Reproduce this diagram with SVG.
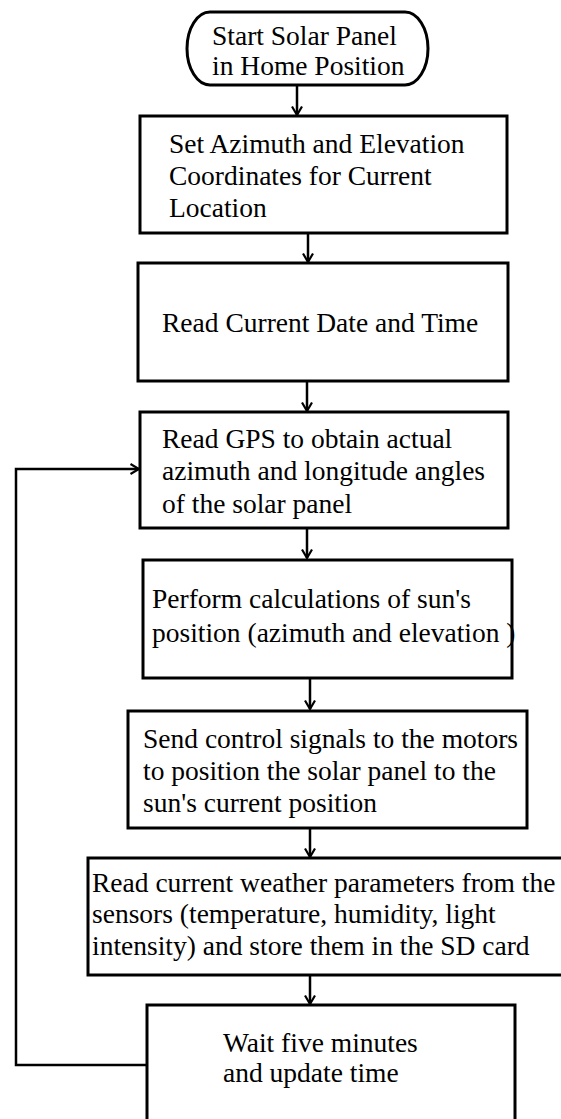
<svg xmlns="http://www.w3.org/2000/svg" width="561" height="1119" viewBox="0 0 561 1119">
<style>
.box{fill:#fff;stroke:#000;stroke-width:3}
.c{fill:none;stroke:#000;stroke-width:2.5}
</style>
<defs>
<marker id="ah" markerUnits="userSpaceOnUse" viewBox="0 0 12 12" refX="10.5" refY="6" markerWidth="12" markerHeight="12" orient="auto">
<path d="M2,1 L10.5,6 L2,11" fill="none" stroke="#000" stroke-width="2.2"/>
</marker>
</defs>
<rect width="561" height="1119" fill="#fff"/>
<g id="connectors">
<line class="c" x1="297" y1="85" x2="297" y2="115" marker-end="url(#ah)"/>
<line class="c" x1="308" y1="233" x2="308" y2="262" marker-end="url(#ah)"/>
<line class="c" x1="307" y1="381" x2="307" y2="411" marker-end="url(#ah)"/>
<line class="c" x1="307" y1="528" x2="307" y2="558" marker-end="url(#ah)"/>
<line class="c" x1="310" y1="678" x2="310" y2="709" marker-end="url(#ah)"/>
<line class="c" x1="310" y1="828" x2="310" y2="857" marker-end="url(#ah)"/>
<line class="c" x1="310" y1="975" x2="310" y2="1004" marker-end="url(#ah)"/>
<path class="c" d="M147,1065 H16 V469 H139" marker-end="url(#ah)"/>
</g>
<g font-family="Liberation Serif, Times New Roman, serif" font-size="27.5" fill="#000">
<g id="start">
<path class="box" d="M210,12 H405 A23,36.5 0 0 1 405,85 H210 A23,36.5 0 0 1 210,12 Z"/>
<text x="212" y="45">Start Solar Panel</text>
<text x="212" y="75">in Home Position</text>
</g>
<g id="set-coords">
<rect class="box" x="140" y="116" width="367" height="117"/>
<text x="169" y="153">Set Azimuth and Elevation</text>
<text x="169" y="185">Coordinates for Current</text>
<text x="169" y="217">Location</text>
</g>
<g id="read-date">
<rect class="box" x="138" y="263" width="370" height="118"/>
<text x="162" y="332">Read Current Date and Time</text>
</g>
<g id="read-gps">
<rect class="box" x="140" y="412" width="368" height="116"/>
<text x="162" y="448">Read GPS to obtain actual</text>
<text x="162" y="480">azimuth and longitude angles</text>
<text x="162" y="513">of the solar panel</text>
</g>
<g id="calc-sun">
<rect class="box" x="143" y="560" width="369" height="118"/>
<text x="152" y="608">Perform calculations of sun's</text>
<text x="152" y="642">position (azimuth and elevation )</text>
</g>
<g id="send-control">
<rect class="box" x="128" y="711" width="399" height="117"/>
<text x="143" y="748">Send control signals to the motors</text>
<text x="143" y="780">to position the solar panel to the</text>
<text x="143" y="812">sun's current position</text>
</g>
<g id="read-weather">
<rect class="box" x="88" y="858" width="476" height="117"/>
<text x="92" y="892">Read current weather parameters from the</text>
<text x="92" y="923">sensors (temperature, humidity, light</text>
<text x="92" y="955">intensity) and store them in the SD card</text>
</g>
<g id="wait">
<rect class="box" x="147" y="1005" width="368" height="118"/>
<text x="223" y="1052">Wait five minutes</text>
<text x="223" y="1082">and update time</text>
</g>
</g>
</svg>
